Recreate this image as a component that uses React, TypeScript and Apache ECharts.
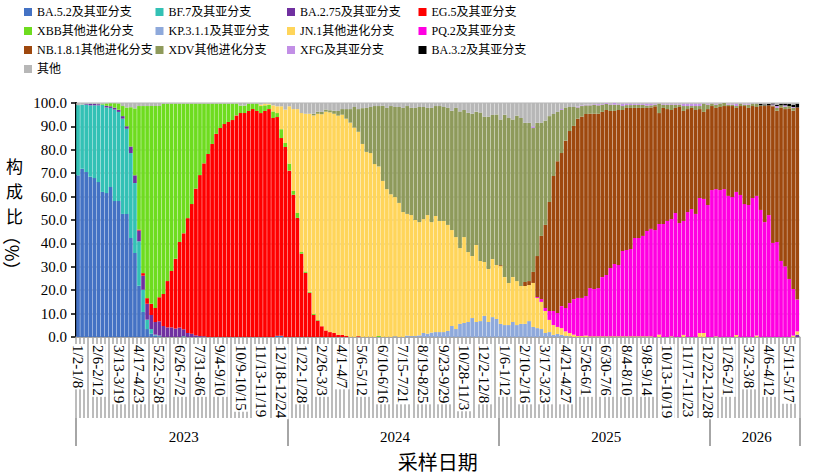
import React, { useEffect, useRef } from "react";
import * as echarts from "echarts";

// ---- categories: weekly sampling periods (Mon–Sun), Jan 2023 – May 2026 ----
const FIRST_MONDAY = Date.UTC(2023, 0, 2);
const WEEK_COUNT = 178;
const DAY_MS = 86400000;
const md = (t: number) => {
  const d = new Date(t);
  return `${d.getUTCMonth() + 1}/${d.getUTCDate()}`;
};
const weekLabels: string[] = Array.from({ length: WEEK_COUNT }, (_, i) => {
  const s = FIRST_MONDAY + i * 7 * DAY_MS;
  return `${md(s)}-${md(s + 6 * DAY_MS)}`;
});

// second-level grouping of the weeks by year
const yearNames = ["2023", "2024", "2025", "2026"];
const yearWeekCounts = [52, 52, 52, 22];

const seriesNames = [
  "BA.5.2及其亚分支",
  "BF.7及其亚分支",
  "BA.2.75及其亚分支",
  "EG.5及其亚分支",
  "XBB其他进化分支",
  "KP.3.1.1及其亚分支",
  "JN.1其他进化分支",
  "PQ.2及其亚分支",
  "NB.1.8.1其他进化分支",
  "XDV其他进化分支",
  "XFG及其亚分支",
  "BA.3.2及其亚分支",
  "其他",
];

const seriesColors = [
  "#4472C4", "#33C1B5", "#7030A0", "#FF0000", "#6EDC1F", "#8EA9DB", "#FFD55A",
  "#FF00E1", "#9E480E", "#8E9A5B", "#C28FE6", "#000000", "#B7B7B7",
];

// ---- composition (%) per week ----
const ba52 = [
  69.1, 71.9, 70.5, 68.5, 67.9, 66.2, 62.0, 61.5, 64.1, 58.1,
  58.1, 52.6, 52.6, 42.3, 35.9, 21.9, 10.7, 3.4, 1.4, 0.7,
  0.3, 0, 0, 0, 0, 0, 0, 0, 0, 0,
  0, 0, 0, 0, 0, 0, 0, 0, 0, 0,
  0, 0, 0, 0, 0, 0, 0, 0, 0, 0.5,
  0.5, 0, 0, 0, 0, 0, 0, 0, 0, 0,
  0, 0, 0, 0, 0, 0, 0, 0, 0, 0,
  0, 0, 0, 0, 0, 0, 0, 0, 0, 0,
  0, 0, 0, 0, 0, 0, 0, 0, 0, 0,
  0, 0, 0, 0, 0, 0, 0, 0, 0, 0,
  0, 0, 0, 0, 0, 0, 0, 0, 0, 0,
  0, 0, 0, 0, 0, 0, 0, 0, 0, 0,
  0, 0, 0, 0, 0, 0, 0, 0, 0, 0,
  0, 0, 0, 0, 0, 0, 0, 0, 0, 0,
  0, 0, 0, 0, 0, 0, 0, 0, 0, 0,
  0, 0, 0, 0, 0, 0, 0, 0, 0, 0,
  0, 0, 0, 0, 0, 0, 0, 0, 0, 0,
  0, 0, 0, 0, 0, 0, 0, 0,
];

const bf7 = [
  30.0, 27.4, 28.8, 30.5, 31.1, 32.8, 37.3, 36.6, 33.8, 39.1,
  38.1, 40.7, 36.4, 36.3, 29.9, 19.0, 9.5, 4.0, 2.0, 0.3,
  0.3, 0, 0, 0, 0, 0, 0.3, 0, 0, 0,
  0, 0, 0, 0, 0, 0, 0, 0, 0, 0,
  0, 0, 0, 0, 0, 0, 0, 0, 0, 0,
  0, 0, 0, 0, 0, 0, 0, 0, 0, 0,
  0, 0, 0, 0, 0, 0, 0, 0, 0, 0,
  0, 0, 0, 0, 0, 0, 0, 0, 0, 0,
  0, 0, 0, 0, 0, 0, 0, 0, 0, 0,
  0, 0, 0, 0, 0, 0, 0, 0, 0, 0,
  0, 0, 0, 0, 0, 0, 0, 0, 0, 0,
  0, 0, 0, 0, 0, 0, 0, 0, 0, 0,
  0, 0, 0, 0, 0, 0, 0, 0, 0, 0,
  0, 0, 0, 0, 0, 0, 0, 0, 0, 0,
  0, 0, 0, 0, 0, 0, 0, 0, 0, 0,
  0, 0, 0, 0, 0, 0, 0, 0, 0, 0,
  0, 0, 0, 0, 0, 0, 0, 0, 0, 0,
  0, 0, 0, 0, 0, 0, 0, 0,
];

const ba275 = [
  0, 0, 0.4, 0.6, 0.6, 0.5, 0, 0.7, 0.7, 0.8,
  0.9, 1.1, 1.1, 2.8, 3.3, 4.6, 6.0, 6.8, 6.0, 5.4,
  6.1, 4.7, 4.1, 4.1, 3.6, 4.0, 3.0, 1.7, 1.4, 0.7,
  0.4, 0.3, 0, 0, 0, 0, 0, 0, 0, 0,
  0, 0, 0, 0, 0, 0, 0, 0, 0, 0,
  0, 0, 0, 0, 0, 0, 0, 0, 0, 0,
  0, 0, 0, 0, 0, 0, 0, 0, 0, 0,
  0, 0, 0, 0, 0, 0, 0, 0, 0, 0,
  0, 0, 0, 0, 0, 0, 0, 0, 0, 0,
  0, 0, 0, 0, 0, 0, 0, 0, 0, 0,
  0, 0, 0, 0, 0, 0, 0, 0, 0, 0,
  0, 0, 0, 0, 0, 0, 0, 0, 0, 0,
  0, 0, 0, 0, 0, 0, 0, 0, 0, 0,
  0, 0, 0, 0, 0, 0, 0, 0, 0, 0,
  0, 0, 0, 0, 0, 0, 0, 0, 0, 0,
  0, 0, 0, 0, 0, 0, 0, 0, 0, 0,
  0, 0, 0, 0, 0, 0, 0, 0, 0, 0,
  0, 0, 0, 0, 0, 0, 0, 1.0,
];

const eg5 = [
  0, 0, 0, 0, 0, 0, 0, 0, 0, 0,
  0, 0, 0, 0, 0, 0.4, 1.1, 2.4, 4.8, 6.0,
  10.3, 13.7, 19.8, 24.1, 29.8, 36.6, 41.0, 49.1, 55.4, 62.7,
  68.8, 73.9, 78.2, 82.5, 86.8, 89.3, 91.0, 91.9, 92.7, 94.7,
  95.7, 95.7, 96.6, 97.4, 96.6, 95.7, 96.6, 97.4, 93.6, 93.5,
  84.5, 81.2, 71.1, 60.8, 50.9, 35.6, 27.4, 18.9, 9.4, 7.0,
  4.6, 2.8, 2.1, 1.7, 0.9, 0.9, 0.4, 0, 0, 0.3,
  0, 0, 0, 0, 0, 0, 0, 0, 0, 0,
  0, 0, 0, 0, 0, 0, 0, 0, 0, 0,
  0, 0, 0, 0, 0, 0, 0, 0, 0, 0,
  0, 0, 0, 0, 0, 0, 0, 0, 0, 0,
  0, 0, 0, 0, 0, 0, 0, 0, 0, 0,
  0, 0, 0, 0, 0, 0, 0, 0, 0, 0,
  0, 0, 0, 0, 0, 0, 0, 0, 0, 0,
  0, 0, 0, 0, 0, 0, 0, 0, 0, 0,
  0, 0, 0, 0, 0, 0, 0, 0, 0, 0,
  0, 0, 0, 0, 0, 0, 0, 0, 0, 0,
  0, 0, 0, 0, 0, 0, 0, 0,
];

const xbb = [
  0, 0, 0, 0, 0, 0, 0.4, 1.0, 1.3, 1.9,
  2.7, 4.3, 8.0, 16.8, 28.6, 52.8, 71.4, 82.1, 84.5, 86.3,
  81.7, 81.2, 75.8, 71.5, 66.3, 59.1, 55.4, 48.9, 42.9, 36.3,
  30.5, 25.5, 21.5, 17.2, 12.9, 10.4, 8.7, 7.8, 7.0, 5.0,
  3.2, 3.2, 3.1, 2.3, 3.1, 3.0, 2.4, 1.9, 2.8, 1.7,
  3.8, 1.7, 3.0, 1.6, 2.1, 0.7, 0.6, 0.4, 0.4, 0.3,
  0, 0, 0, 0, 0, 0, 0, 0, 0, 0,
  0, 0, 0, 0, 0.4, 0, 0, 0, 0, 0,
  0, 0, 0, 0, 0, 0, 0, 0, 0, 0,
  0, 0, 0, 0, 0, 0, 0, 0, 0, 0,
  0, 0, 0, 0, 0, 0, 0, 0, 0, 0,
  0, 0, 0, 0, 0, 0, 0, 0, 0, 0,
  0, 0, 0, 0, 0, 0, 0, 0, 0, 0,
  0, 0, 0, 0, 0, 0, 0, 0, 0, 0,
  0, 0, 0, 0, 0, 0, 0, 0, 0, 0,
  0, 0, 0, 0, 0, 0, 0, 0, 0, 0,
  0, 0, 0, 0, 0, 0, 0, 0, 0, 0,
  0, 0, 0, 0, 0, 0, 0, 0,
];

const kp311 = [
  0, 0, 0, 0, 0, 0, 0, 0, 0, 0,
  0, 0, 0, 0, 0, 0, 0, 0, 0, 0,
  0, 0, 0, 0, 0, 0, 0, 0, 0, 0,
  0, 0, 0, 0, 0, 0, 0, 0, 0, 0,
  0, 0, 0, 0, 0, 0, 0, 0, 0, 0,
  0, 0, 0, 0, 0, 0, 0, 0, 0, 0,
  0, 0, 0, 0, 0, 0, 0, 0, 0, 0,
  0, 0, 0, 0, 0, 0, 0, 0, 0.3, 0,
  0, 0.6, 0.4, 0.4, 0.7, 1.7, 1.4, 1.9, 2.1, 2.1,
  2.1, 2.6, 4.7, 3.4, 5.6, 6.0, 6.4, 8.1, 6.4, 6.8,
  9.0, 6.4, 8.5, 7.7, 5.6, 5.1, 5.1, 6.4, 5.1, 5.6,
  5.6, 6.8, 4.3, 3.8, 3.4, 1.7, 2.1, 0.9, 1.3, 0.9,
  0.4, 0.3, 0, 0, 0, 0, 0, 0, 0, 0,
  0, 0, 0, 0, 0, 0, 0, 0, 0, 0,
  0, 0, 0, 0, 0, 0, 0, 0, 0, 0,
  0, 0, 0, 0, 0, 0, 0, 0, 0, 0,
  0, 0, 0, 0, 0, 0, 0, 0, 0, 0,
  0, 0, 0, 0, 0, 0, 0, 0,
];

const jn1 = [
  0, 0, 0, 0, 0, 0, 0, 0, 0, 0,
  0, 0, 0, 0, 0, 0, 0, 0, 0, 0,
  0, 0, 0, 0, 0, 0, 0, 0, 0, 0,
  0, 0, 0, 0, 0, 0, 0, 0, 0, 0,
  0, 0, 0, 0, 0, 0.6, 0.7, 0.4, 2.6, 2.9,
  9.8, 14.3, 24.5, 35.0, 44.4, 59.4, 67.4, 76.1, 84.9, 88.1,
  90.6, 93.5, 93.9, 93.7, 93.7, 94.1, 92.9, 91.6, 89.5, 87.4,
  82.5, 79.1, 78.6, 73.9, 72.5, 66.7, 63.2, 61.0, 59.5, 57.3,
  53.4, 52.0, 51.7, 49.6, 48.4, 48.7, 50.7, 47.2, 49.6, 47.5,
  47.5, 45.3, 41.0, 39.3, 32.4, 36.7, 29.9, 26.5, 32.9, 25.7,
  23.1, 22.7, 24.8, 23.1, 24.7, 20.5, 18.0, 19.2, 18.8, 16.2,
  16.2, 15.4, 18.8, 12.9, 11.6, 9.4, 5.2, 4.2, 3.0, 2.9,
  2.0, 1.4, 1.0, 0.4, 0.4, 0.6, 0.3, 0.3, 0.3, 0.3,
  0.3, 0.3, 0.3, 0.3, 0.3, 0.3, 0.3, 0.3, 0.3, 0.3,
  0.3, 0.3, 0, 1.0, 0, 0, 0.3, 0, 0, 0.9,
  0, 0, 0, 1.7, 1.7, 0, 0, 0.3, 0, 0,
  0, 0, 0.9, 0, 0, 0, 0, 0.6, 0, 0,
  0, 0, 0, 0, 0, 0, 0.6, 1.4,
];

const pq2 = [
  0, 0, 0, 0, 0, 0, 0, 0, 0, 0,
  0, 0, 0, 0, 0, 0, 0, 0, 0, 0,
  0, 0, 0, 0, 0, 0, 0, 0, 0, 0,
  0, 0, 0, 0, 0, 0, 0, 0, 0, 0,
  0, 0, 0, 0, 0, 0, 0, 0, 0, 0,
  0, 0, 0, 0, 0, 0, 0, 0, 0, 0,
  0, 0, 0, 0, 0, 0, 0, 0, 0, 0,
  0, 0, 0, 0, 0, 0, 0, 0, 0, 0,
  0, 0, 0, 0, 0, 0, 0, 0, 0, 0,
  0, 0, 0, 0, 0, 0, 0, 0, 0, 0,
  0, 0, 0, 0, 0, 0, 0, 0, 0, 0,
  0, 0, 0, 0.4, 1.2, 1.3, 3.8, 6.0, 6.0, 9.4,
  10.0, 12.8, 15.2, 16.3, 16.3, 16.9, 20.6, 20.2, 20.6, 25.3,
  26.2, 29.2, 30.9, 30.5, 36.5, 36.9, 37.3, 42.0, 42.0, 42.9,
  45.0, 45.9, 45.7, 47.3, 48.3, 49.6, 50.1, 53.0, 48.7, 48.7,
  53.4, 54.7, 52.6, 57.7, 57.3, 56.4, 62.8, 62.9, 62.8, 63.2,
  60.3, 59.8, 61.1, 60.7, 56.8, 56.4, 59.4, 59.7, 54.3, 49.1,
  52.1, 40.2, 40.6, 32.5, 30.2, 24.8, 19.9, 13.6,
];

const nb181 = [
  0, 0, 0, 0, 0, 0, 0, 0, 0, 0,
  0, 0, 0, 0, 0, 0, 0, 0, 0, 0,
  0, 0, 0, 0, 0, 0, 0, 0, 0, 0,
  0, 0, 0, 0, 0, 0, 0, 0, 0, 0,
  0, 0, 0, 0, 0, 0, 0, 0, 0, 0,
  0, 0, 0, 0, 0, 0, 0, 0, 0, 0,
  0, 0, 0, 0, 0, 0, 0, 0, 0, 0,
  0, 0, 0, 0, 0, 0, 0, 0, 0, 0,
  0, 0, 0, 0, 0, 0, 0, 0, 0, 0,
  0, 0, 0, 0, 0, 0, 0, 0, 0, 0,
  0, 0, 0, 0, 0.4, 0, 0, 0, 0, 0,
  1.7, 1.7, 4.7, 17.5, 27.0, 35.5, 46.6, 57.7, 64.8, 65.4,
  71.5, 73.5, 74.0, 76.6, 77.5, 77.8, 74.5, 74.9, 74.5, 70.6,
  70.5, 67.1, 65.4, 66.2, 60.2, 60.7, 60.3, 55.6, 55.6, 54.7,
  52.6, 51.9, 52.9, 47.4, 49.6, 47.8, 46.6, 44.9, 49.6, 47.0,
  44.0, 43.2, 44.4, 38.0, 37.2, 41.0, 35.9, 34.7, 35.5, 35.5,
  38.4, 38.9, 35.9, 38.0, 41.9, 41.5, 39.3, 38.0, 44.4, 49.6,
  46.9, 58.4, 56.1, 65.6, 67.2, 72.9, 76.2, 82.1,
];

const xdv = [
  0, 0, 0, 0, 0, 0, 0, 0, 0, 0,
  0, 0, 0, 0, 0, 0, 0, 0, 0, 0,
  0, 0, 0, 0, 0, 0, 0, 0, 0, 0,
  0, 0, 0, 0, 0, 0, 0, 0, 0, 0,
  0, 0, 0, 0, 0, 0, 0, 0, 0, 0,
  0, 0, 0, 0, 0, 0, 0, 0, 0.7, 0.9,
  1.0, 0.9, 0.9, 1.3, 2.0, 2.4, 4.1, 5.8, 8.8, 9.7,
  15.3, 18.8, 19.7, 24.8, 25.8, 32.1, 34.7, 37.7, 38.5, 41.0,
  44.5, 46.1, 45.8, 47.9, 49.2, 47.9, 45.8, 48.8, 47.0, 49.1,
  48.7, 50.0, 51.0, 55.2, 58.4, 54.3, 59.5, 60.8, 57.0, 63.4,
  62.0, 65.0, 61.6, 64.3, 62.2, 69.4, 70.5, 67.3, 70.7, 71.8,
  68.0, 67.6, 61.5, 56.9, 48.3, 44.6, 36.7, 26.5, 21.1, 18.4,
  14.2, 10.3, 8.1, 4.8, 4.5, 3.7, 3.6, 3.9, 3.6, 3.1,
  2.6, 2.7, 2.7, 2.3, 1.7, 1.2, 1.2, 1.3, 1.3, 1.3,
  1.0, 0.9, 0.7, 4.0, 1.4, 1.9, 2.3, 1.4, 1.0, 2.1,
  1.3, 0.8, 1.7, 1.3, 3.4, 1.9, 0.9, 1.4, 1.3, 1.3,
  0.6, 0.6, 0.8, 0.9, 0.6, 1.4, 0.9, 1.3, 0.3, 0.3,
  0, 0.4, 1.2, 0.9, 1.0, 1.0, 1.2, 0,
];

const xfg = [
  0, 0, 0, 0, 0, 0, 0, 0, 0, 0,
  0, 0, 0, 0, 0, 0, 0, 0, 0, 0,
  0, 0, 0, 0, 0, 0, 0, 0, 0, 0,
  0, 0, 0, 0, 0, 0, 0, 0, 0, 0,
  0, 0, 0, 0, 0, 0, 0, 0, 0, 0,
  0, 0, 0, 0, 0, 0, 0, 0, 0, 0,
  0, 0, 0, 0, 0, 0, 0, 0, 0, 0,
  0, 0, 0, 0, 0, 0, 0, 0, 0, 0,
  0, 0, 0, 0, 0, 0, 0, 0, 0, 0,
  0, 0, 0, 0, 0, 0, 0, 0, 0, 0,
  0, 0, 0, 0, 0, 0, 0, 0, 0, 0,
  0, 0, 0.7, 0, 0, 0, 0, 0, 0, 0.4,
  0, 0, 0, 0.4, 0.3, 0.3, 0.3, 0.3, 0.5, 0.3,
  0.4, 0.4, 0.7, 0.4, 1.0, 0.7, 0.6, 0.5, 0.5, 0.5,
  0.8, 0.7, 0.4, 0, 0.4, 0.4, 0.4, 0.4, 0.4, 1.0,
  1.0, 1.0, 1.0, 1.0, 0, 0.4, 0, 0.4, 0, 0,
  0.4, 0.4, 1.0, 0, 0.4, 0.4, 0, 0, 0, 0,
  0, 0.4, 0.8, 0, 0.6, 0, 0.4, 0,
];

const ba32 = [
  0, 0, 0, 0, 0, 0, 0, 0, 0, 0,
  0, 0, 0, 0, 0, 0, 0, 0, 0, 0,
  0, 0, 0, 0, 0, 0, 0, 0, 0, 0,
  0, 0, 0, 0, 0, 0, 0, 0, 0, 0,
  0, 0, 0, 0, 0, 0, 0, 0, 0, 0,
  0, 0, 0, 0, 0, 0, 0, 0, 0, 0,
  0, 0, 0, 0, 0, 0, 0, 0, 0, 0,
  0, 0, 0, 0, 0, 0, 0, 0, 0, 0,
  0, 0, 0, 0, 0, 0, 0, 0, 0, 0,
  0, 0, 0, 0, 0, 0, 0, 0, 0, 0,
  0, 0, 0, 0, 0, 0, 0, 0, 0, 0,
  0, 0, 0, 0, 0, 0, 0, 0, 0, 0,
  0, 0, 0, 0, 0, 0, 0, 0, 0, 0,
  0, 0, 0, 0, 0, 0, 0, 0, 0, 0,
  0, 0, 0, 0, 0, 0, 0, 0, 0, 0,
  0, 0, 0, 0, 0, 0, 0, 0, 0, 0,
  0, 0, 0, 0, 0, 0, 0, 0, 0.6, 0.4,
  0.6, 0.4, 0.6, 0.7, 0.7, 0.9, 1.0, 1.6,
];

const others = [
  0.9, 0.7, 0.3, 0.4, 0.4, 0.5, 0.3, 0.2, 0.1, 0.1,
  0.2, 1.3, 1.9, 1.8, 2.3, 1.3, 1.3, 1.3, 1.3, 1.3,
  1.3, 0.4, 0.3, 0.3, 0.3, 0.3, 0.3, 0.3, 0.3, 0.3,
  0.3, 0.3, 0.3, 0.3, 0.3, 0.3, 0.3, 0.3, 0.3, 0.3,
  1.1, 1.1, 0.3, 0.3, 0.3, 0.7, 0.3, 0.3, 1.0, 1.4,
  1.4, 2.8, 1.4, 2.6, 2.6, 4.3, 4.6, 4.6, 4.6, 3.7,
  3.8, 2.8, 3.1, 3.3, 3.4, 2.6, 2.6, 2.6, 1.7, 2.6,
  2.2, 2.1, 1.7, 1.3, 1.3, 1.2, 2.1, 1.3, 1.7, 1.7,
  2.1, 1.3, 2.1, 2.1, 1.7, 1.7, 2.1, 2.1, 1.3, 1.3,
  1.7, 2.1, 3.3, 2.1, 3.6, 3.0, 4.2, 4.6, 3.7, 4.1,
  5.9, 5.9, 5.1, 4.9, 7.1, 5.0, 6.4, 7.1, 5.4, 6.4,
  8.5, 8.5, 10.0, 8.5, 8.5, 7.5, 5.6, 4.7, 3.8, 2.6,
  1.9, 1.7, 1.7, 1.5, 1.0, 0.7, 0.7, 0.4, 0.5, 0.4,
  0, 0.3, 0, 0.3, 0.3, 0.2, 0.3, 0.3, 0.3, 0.3,
  0.3, 0.3, 0.3, 0.3, 0.3, 0.3, 0.3, 0.3, 0.3, 0.3,
  0.3, 0.3, 0.3, 0.3, 0.4, 0.3, 0.4, 0.3, 0.4, 0,
  0.3, 0.3, 0.3, 0.4, 0.3, 0.3, 0.4, 0.4, 0.4, 0.6,
  0.4, 0.2, 0.7, 0.3, 0.3, 0.4, 0.7, 0.3,
];

const seriesValues = [ba52, bf7, ba275, eg5, xbb, kp311, jn1, pq2, nb181, xdv, xfg, ba32, others];

const SERIF = '"Liberation Serif", "Times New Roman", "Noto Sans CJK SC", serif';
const CJK = '"Noto Sans CJK SC", "Liberation Serif", serif';
const AXIS_GREY = "#A6A6A6";

// year group boundaries (first week of each year) and the week at each group's centre
const yearStarts: number[] = [];
const yearCentres: number[] = [];
const yearOfWeek: string[] = [];
{
  let s = 0;
  yearWeekCounts.forEach((n, k) => {
    yearStarts.push(s);
    yearCentres.push(s + Math.floor(n / 2));
    for (let j = 0; j < n; j++) yearOfWeek.push(yearNames[k]);
    s += n;
  });
}

// y-axis title: upright stacked characters above, the unit (axis name) turned sideways below
const yTitleStacked = "构\n成\n比";
const yUnit = "（%）";

export default function App() {
  const ref = useRef<HTMLDivElement>(null);

  useEffect(() => {
    if (!ref.current) return;
    const chart = echarts.init(ref.current, undefined, { renderer: "svg" });

    const option: any = {
      animation: false,
      backgroundColor: "#ffffff",
      textStyle: { fontFamily: SERIF },
      legend: {
        left: 24,
        top: 2.5,
        width: 530,
        orient: "horizontal",
        align: "left",
        icon: "rect",
        itemWidth: 8,
        itemHeight: 8,
        itemGap: 0,
        padding: 0,
        selectedMode: false,
        data: seriesNames,
        textStyle: {
          fontFamily: SERIF,
          fontSize: 12,
          color: "#000",
          width: 118.5,
          lineHeight: 19,
          overflow: "none",
        },
      },
      grid: {
        left: 76,
        right: 29.7,
        top: 103,
        bottom: 137,
        containLabel: false,
        outerBoundsMode: "none",
      },
      xAxis: [
        {
          type: "category",
          data: weekLabels,
          boundaryGap: true,
          axisLine: { show: true, lineStyle: { color: AXIS_GREY, width: 2 } },
          axisTick: {
            show: true,
            interval: 0,
            length: 81,
            lineStyle: { color: AXIS_GREY, width: 1.5 },
          },
          axisLabel: {
            interval: 4,
            rotate: -90,
            margin: 7,
            fontSize: 15,
            fontFamily: SERIF,
            color: "#000",
            hideOverlap: false,
            backgroundColor: "#ffffff",
            padding: [0, 1],
          },
          splitLine: { show: false },
          name: "采样日期",
          nameLocation: "middle",
          nameGap: 114,
          nameTextStyle: { fontFamily: CJK, fontSize: 20, color: "#000" },
        },
        {
          type: "category",
          data: weekLabels,
          position: "bottom",
          offset: 81,
          boundaryGap: true,
          axisLine: { show: false },
          axisTick: {
            show: true,
            interval: (i: number) => yearStarts.includes(i),
            length: 28,
            lineStyle: { color: AXIS_GREY, width: 2 },
          },
          axisLabel: {
            interval: (i: number) => yearCentres.includes(i),
            formatter: (_v: string, i: number) => yearOfWeek[i],
            margin: 11,
            fontSize: 15,
            fontFamily: SERIF,
            color: "#000",
            hideOverlap: false,
          },
          splitLine: { show: false },
        },
      ],
      yAxis: {
        type: "value",
        min: 0,
        max: 100,
        interval: 10,
        name: yUnit,
        nameLocation: "middle",
        nameRotate: -90,
        nameGap: 53,
        nameTextStyle: {
          fontFamily: CJK,
          fontSize: 18,
          color: "#000",
          padding: [0, 0, 0, 66],
        },
        axisLine: { show: true, lineStyle: { color: "#000", width: 2 } },
        axisTick: { show: true, length: 5, lineStyle: { color: "#000", width: 1.5 } },
        axisLabel: {
          formatter: (v: number) => v.toFixed(1),
          fontSize: 15,
          fontFamily: SERIF,
          color: "#000",
          margin: 9,
        },
        splitLine: { show: true, lineStyle: { color: "#CCCCCC", width: 1.5 } },
      },
      series: seriesNames.map((name, k) => ({
        name,
        type: "bar",
        stack: "share",
        barCategoryGap: "10%",
        data: seriesValues[k],
        itemStyle: { color: seriesColors[k] },
        emphasis: { disabled: true },
      })),
      graphic: [
        {
          type: "text",
          silent: true,
          x: 14.5,
          y: 190,
          style: {
            text: yTitleStacked,
            font: `17px ${CJK}`,
            lineHeight: 25,
            fill: "#000",
            align: "center",
            verticalAlign: "middle",
          },
        },
      ],
    };

    chart.setOption(option);
    return () => chart.dispose();
  }, []);

  return (
    <div
      ref={ref}
      style={{ position: "fixed", left: 0, top: 0, width: 829, height: 474, background: "#fff" }}
    />
  );
}
